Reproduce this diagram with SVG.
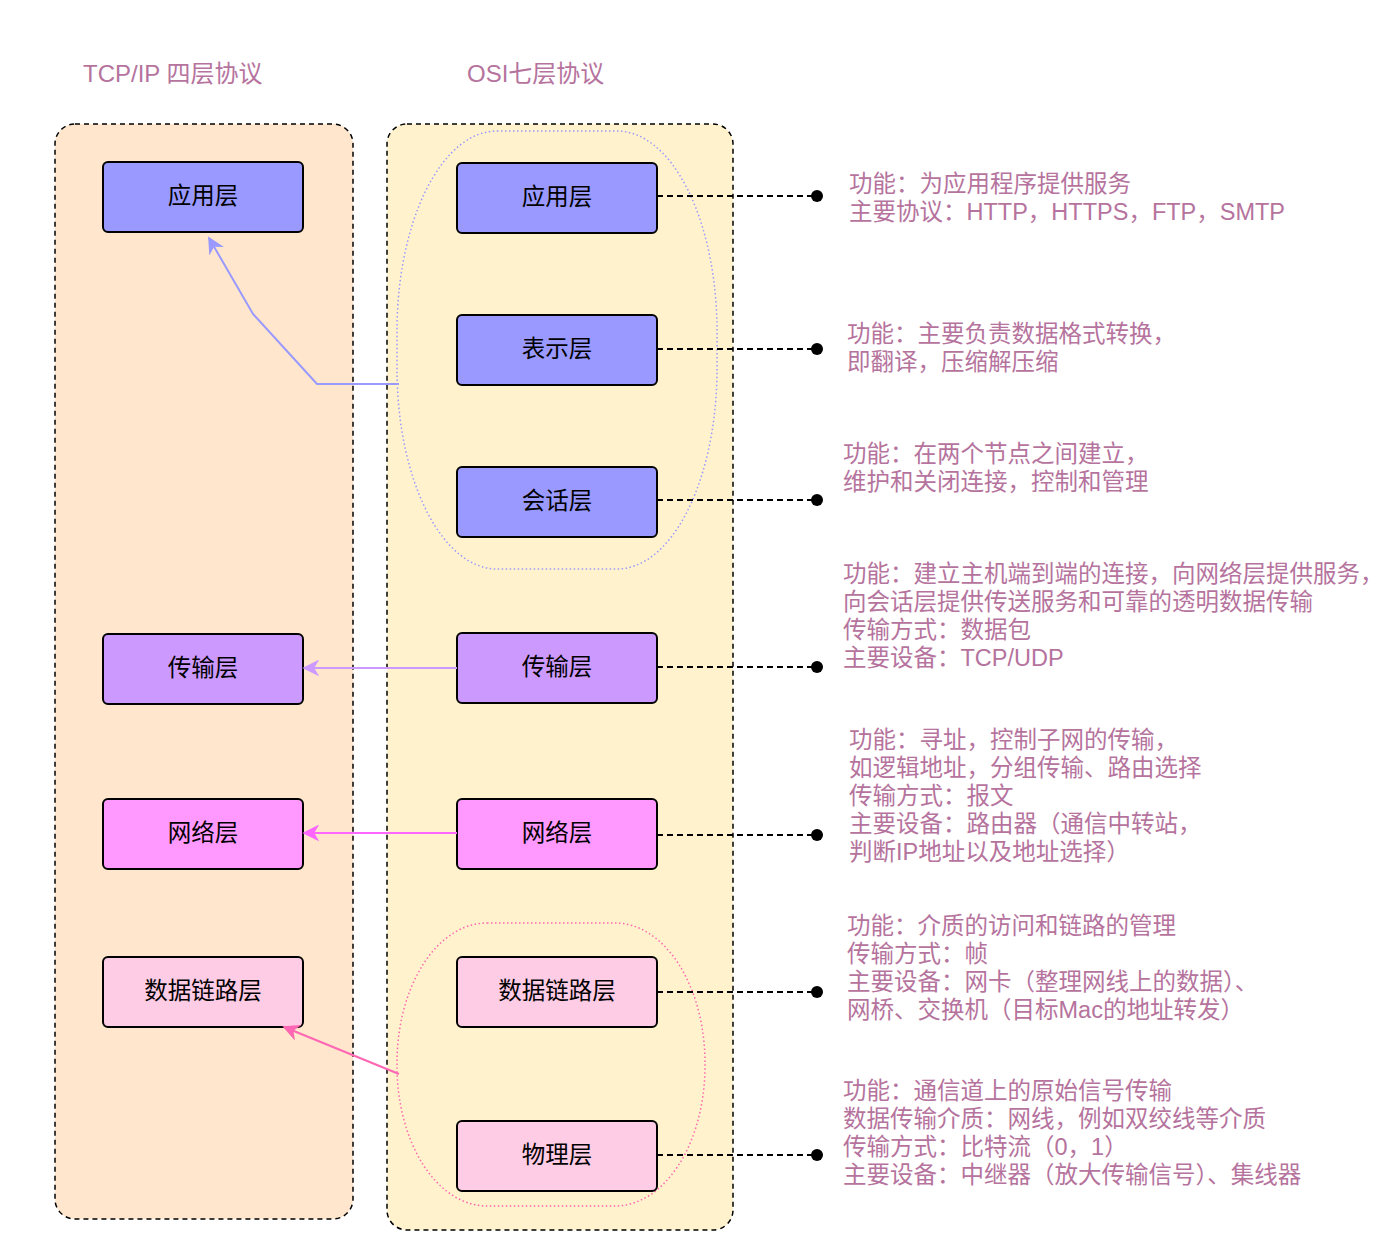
<svg xmlns="http://www.w3.org/2000/svg" width="1400" height="1258" viewBox="0 0 1400 1258">
<defs>
<style>
text{font-family:"Liberation Sans","Noto Sans CJK SC",sans-serif;}
.title{font-size:24px;fill:#B5739D;}
.desc{font-size:23.5px;fill:#B5739D;}
.lbl{font-size:23.5px;fill:#000;text-anchor:middle;dominant-baseline:central;}
.node{stroke:#000;stroke-width:2;}
.cont{stroke:#000;stroke-width:1.5;stroke-dasharray:5 4;}
.lead{stroke:#000;stroke-width:2;stroke-dasharray:6 4;fill:none;}
</style>
<marker id="aB" viewBox="0 0 10 10" refX="9" refY="5" markerWidth="17" markerHeight="17" orient="auto" markerUnits="userSpaceOnUse"><path d="M0,0 L10,5 L0,10 L3,5 Z" fill="#9999FF"/></marker>
<marker id="aP" viewBox="0 0 10 10" refX="9" refY="5" markerWidth="17" markerHeight="17" orient="auto" markerUnits="userSpaceOnUse"><path d="M0,0 L10,5 L0,10 L3,5 Z" fill="#CC99FF"/></marker>
<marker id="aM" viewBox="0 0 10 10" refX="9" refY="5" markerWidth="17" markerHeight="17" orient="auto" markerUnits="userSpaceOnUse"><path d="M0,0 L10,5 L0,10 L3,5 Z" fill="#FF66FF"/></marker>
<marker id="aK" viewBox="0 0 10 10" refX="9" refY="5" markerWidth="17" markerHeight="17" orient="auto" markerUnits="userSpaceOnUse"><path d="M0,0 L10,5 L0,10 L3,5 Z" fill="#FF66B3"/></marker>
</defs>
<rect width="1400" height="1258" fill="#fff"/>

<text class="title" x="83" y="82">TCP/IP 四层协议</text>
<text class="title" x="467" y="82">OSI七层协议</text>

<g id="tcpip-container"><rect class="cont" x="55" y="124" width="298" height="1095" rx="20" fill="#FFE6CC"/></g>
<g id="osi-container"><rect class="cont" x="387" y="124" width="346" height="1106" rx="20" fill="#FFF2CC"/></g>

<g id="group-upper"><rect x="397" y="131" width="320" height="438" rx="100" ry="200" fill="none" stroke="#9999FF" stroke-width="1.5" stroke-dasharray="1.5 2.5"/></g>
<g id="group-lower"><rect x="397" y="923" width="308" height="283" rx="90" ry="140" fill="none" stroke="#FF66B3" stroke-width="1.5" stroke-dasharray="1.5 2.5"/></g>

<g id="t-app"><rect class="node" x="103" y="162" width="200" height="70" rx="5" fill="#9999FF"/><text class="lbl" x="203" y="196">应用层</text></g>
<g id="t-trans"><rect class="node" x="103" y="634" width="200" height="70" rx="5" fill="#CC99FF"/><text class="lbl" x="203" y="668">传输层</text></g>
<g id="t-net"><rect class="node" x="103" y="799" width="200" height="70" rx="5" fill="#FF99FF"/><text class="lbl" x="203" y="833">网络层</text></g>
<g id="t-link"><rect class="node" x="103" y="957" width="200" height="70" rx="5" fill="#FFCCE6"/><text class="lbl" x="203" y="991">数据链路层</text></g>

<g id="o-app"><rect class="node" x="457" y="163" width="200" height="70" rx="5" fill="#9999FF"/><text class="lbl" x="557" y="197">应用层</text></g>
<g id="o-pres"><rect class="node" x="457" y="315" width="200" height="70" rx="5" fill="#9999FF"/><text class="lbl" x="557" y="349">表示层</text></g>
<g id="o-sess"><rect class="node" x="457" y="467" width="200" height="70" rx="5" fill="#9999FF"/><text class="lbl" x="557" y="501">会话层</text></g>
<g id="o-trans"><rect class="node" x="457" y="633" width="200" height="70" rx="5" fill="#CC99FF"/><text class="lbl" x="557" y="667">传输层</text></g>
<g id="o-net"><rect class="node" x="457" y="799" width="200" height="70" rx="5" fill="#FF99FF"/><text class="lbl" x="557" y="833">网络层</text></g>
<g id="o-link"><rect class="node" x="457" y="957" width="200" height="70" rx="5" fill="#FFCCE6"/><text class="lbl" x="557" y="991">数据链路层</text></g>
<g id="o-phy"><rect class="node" x="457" y="1121" width="200" height="70" rx="5" fill="#FFCCE6"/><text class="lbl" x="557" y="1155">物理层</text></g>

<g id="connectors">
<polyline points="399,384 317,384 253,314 209,238" fill="none" stroke="#9999FF" stroke-width="2" marker-end="url(#aB)"/>
<line x1="457" y1="668" x2="304" y2="668" stroke="#CC99FF" stroke-width="2" marker-end="url(#aP)"/>
<line x1="457" y1="833" x2="304" y2="833" stroke="#FF66FF" stroke-width="2" marker-end="url(#aM)"/>
<line x1="399" y1="1074" x2="284" y2="1027" stroke="#FF66B3" stroke-width="2" marker-end="url(#aK)"/>
<g>
<line class="lead" x1="657" y1="196" x2="817" y2="196"/><circle cx="817" cy="196" r="6"/>
<line class="lead" x1="657" y1="349" x2="817" y2="349"/><circle cx="817" cy="349" r="6"/>
<line class="lead" x1="657" y1="500" x2="817" y2="500"/><circle cx="817" cy="500" r="6"/>
<line class="lead" x1="657" y1="667" x2="817" y2="667"/><circle cx="817" cy="667" r="6"/>
<line class="lead" x1="657" y1="835" x2="817" y2="835"/><circle cx="817" cy="835" r="6"/>
<line class="lead" x1="657" y1="992" x2="817" y2="992"/><circle cx="817" cy="992" r="6"/>
<line class="lead" x1="657" y1="1155" x2="817" y2="1155"/><circle cx="817" cy="1155" r="6"/>
</g>
</g>

<g id="desc-app"><text class="desc" x="849" y="192">功能：为应用程序提供服务</text><text class="desc" x="849" y="220">主要协议：HTTP，HTTPS，FTP，SMTP</text></g>
<g id="desc-pres"><text class="desc" x="847" y="342">功能：主要负责数据格式转换，</text><text class="desc" x="847" y="370">即翻译，压缩解压缩</text></g>
<g id="desc-sess"><text class="desc" x="843" y="462">功能：在两个节点之间建立，</text><text class="desc" x="843" y="490">维护和关闭连接，控制和管理</text></g>
<g id="desc-trans"><text class="desc" x="843" y="582">功能：建立主机端到端的连接，向网络层提供服务，</text><text class="desc" x="843" y="610">向会话层提供传送服务和可靠的透明数据传输</text><text class="desc" x="843" y="638">传输方式：数据包</text><text class="desc" x="843" y="666">主要设备：TCP/UDP</text></g>
<g id="desc-net"><text class="desc" x="849" y="748">功能：寻址，控制子网的传输，</text><text class="desc" x="849" y="776">如逻辑地址，分组传输、路由选择</text><text class="desc" x="849" y="804">传输方式：报文</text><text class="desc" x="849" y="832">主要设备：路由器（通信中转站，</text><text class="desc" x="849" y="860">判断IP地址以及地址选择）</text></g>
<g id="desc-link"><text class="desc" x="847" y="934">功能：介质的访问和链路的管理</text><text class="desc" x="847" y="962">传输方式：帧</text><text class="desc" x="847" y="990">主要设备：网卡（整理网线上的数据）、</text><text class="desc" x="847" y="1018">网桥、交换机（目标Mac的地址转发）</text></g>
<g id="desc-phy"><text class="desc" x="843" y="1099">功能：通信道上的原始信号传输</text><text class="desc" x="843" y="1127">数据传输介质：网线，例如双绞线等介质</text><text class="desc" x="843" y="1155">传输方式：比特流（0，1）</text><text class="desc" x="843" y="1183">主要设备：中继器（放大传输信号）、集线器</text></g>
</svg>
